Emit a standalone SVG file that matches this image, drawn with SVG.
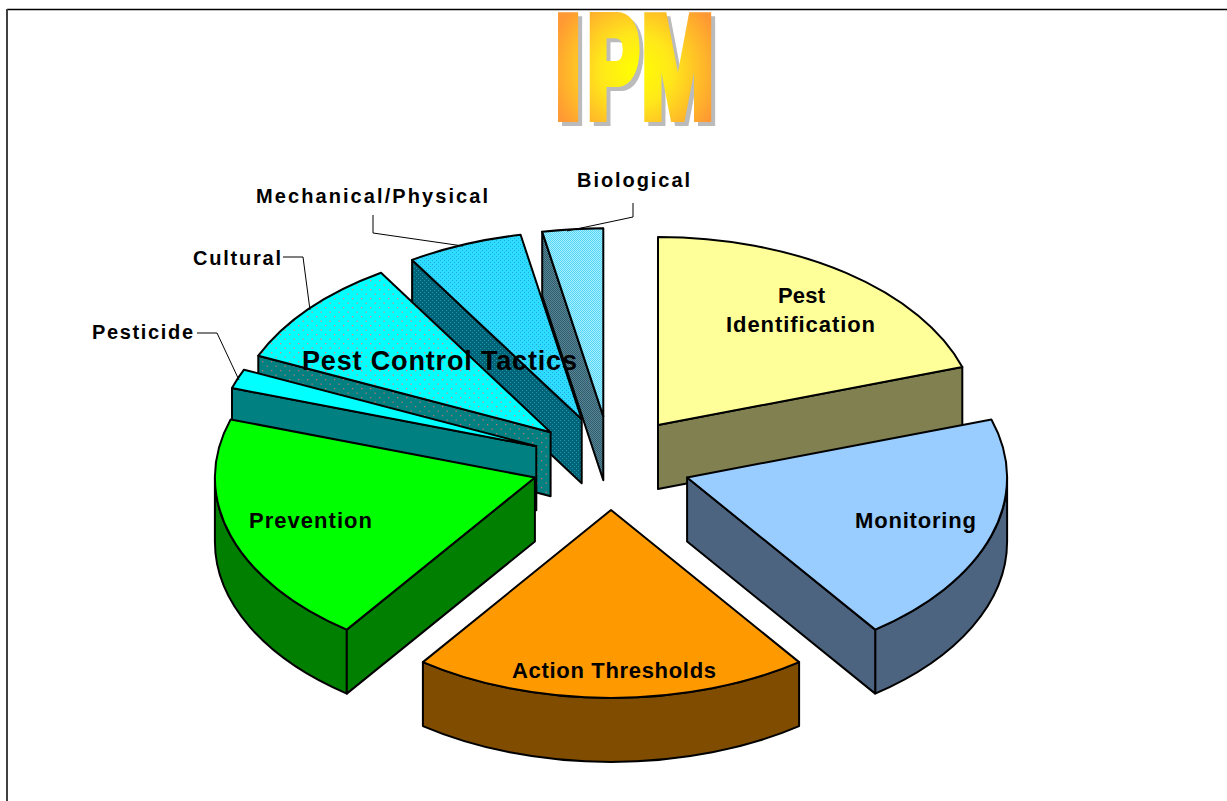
<svg xmlns="http://www.w3.org/2000/svg" width="1227" height="801" viewBox="0 0 1227 801">
<defs>
  <radialGradient id="gT" gradientUnits="userSpaceOnUse" cx="636" cy="70" r="88">
    <stop offset="0" stop-color="#FFFF00"/>
    <stop offset="0.4" stop-color="#FFE81A"/>
    <stop offset="1" stop-color="#FF9933"/>
  </radialGradient>
  <g id="ipmGlyphs" font-family="Liberation Sans, Arial, sans-serif" font-weight="bold" font-size="145" stroke-width="10" stroke-linejoin="miter">
    <text transform="translate(555,117) scale(0.65,1)">I</text>
    <text transform="translate(587.2,117) scale(0.54,1)">P</text>
    <text transform="translate(641.6,117) scale(0.6,1)">M</text>
  </g>
  <mask id="mT" maskUnits="userSpaceOnUse" x="500" y="0" width="280" height="140">
    <use href="#ipmGlyphs" fill="#fff" stroke="#fff"/>
  </mask>
  <pattern id="pCult" width="9" height="9" patternUnits="userSpaceOnUse">
    <rect width="9" height="9" fill="#00FFFF"/>
    <rect x="1" y="1" width="1.3" height="1.3" fill="#F08080"/>
    <rect x="5.5" y="5.5" width="1.3" height="1.3" fill="#F08080"/>
  </pattern>
  <pattern id="pCultSide" width="9" height="9" patternUnits="userSpaceOnUse">
    <rect width="9" height="9" fill="#008080"/>
    <rect x="1" y="1" width="1.3" height="1.3" fill="#C07070"/>
    <rect x="5.5" y="5.5" width="1.3" height="1.3" fill="#C07070"/>
  </pattern>
  <pattern id="pMech" width="4" height="4" patternUnits="userSpaceOnUse">
    <rect width="4" height="4" fill="#2EDCFF"/>
    <rect x="0" y="0" width="1" height="1" fill="#20A8E0"/>
    <rect x="2" y="2" width="1" height="1" fill="#20A8E0"/>
  </pattern>
  <pattern id="pMechSide" width="4" height="4" patternUnits="userSpaceOnUse">
    <rect width="4" height="4" fill="#006478"/>
    <rect x="0" y="0" width="1" height="1" fill="#1A9AB0"/>
    <rect x="2" y="2" width="1" height="1" fill="#1A9AB0"/>
  </pattern>
  <pattern id="pBio" width="2" height="2" patternUnits="userSpaceOnUse">
    <rect width="2" height="2" fill="#A6F0FF"/>
    <rect width="1" height="1" fill="#55D4F8"/>
    <rect x="1" y="1" width="1" height="1" fill="#55D4F8"/>
  </pattern>
  <pattern id="pBioSide" width="2" height="2" patternUnits="userSpaceOnUse">
    <rect width="2" height="2" fill="#5A8494"/>
    <rect width="1" height="1" fill="#2E5E6E"/>
    <rect x="1" y="1" width="1" height="1" fill="#2E5E6E"/>
  </pattern>
</defs>
<style>
  .lbl{font-family:"Liberation Sans",Arial,sans-serif;font-weight:bold;fill:#000}
  .in{font-size:22px}
  .out{font-size:20px}
  .s{stroke:#000;stroke-width:2;stroke-linejoin:round}
  .ld{fill:none;stroke:#000;stroke-width:1}
</style>
<rect width="1227" height="801" fill="#fff"/>
<g id="frame">
  <line x1="7" y1="9.5" x2="1227" y2="9.5" stroke="#000" stroke-width="1.5"/>
  <line x1="7" y1="9" x2="7" y2="801" stroke="#404040" stroke-width="2"/>
</g>
<g id="title">
  <use href="#ipmGlyphs" fill="#BBBBBB" stroke="#BBBBBB" transform="translate(4,4)"/>
  <rect x="500" y="0" width="280" height="140" fill="url(#gT)" mask="url(#mT)"/>
</g>

<g id="biological">
  <path class="s" fill="url(#pBioSide)" d="M603.3,416.2 L542.2,231.7 L542.2,295.7 L603.3,480.2 Z"/>
  <path class="s" fill="url(#pBio)" d="M603.3,416.2 L542.2,231.7 A320,188 0 0 1 603.3,228.2 Z"/>
</g>
<g id="mechanical">
  <path class="s" fill="url(#pMechSide)" d="M581.7,419.3 L412.1,259.9 L412.1,323.9 L581.7,483.3 Z"/>
  <path class="s" fill="url(#pMech)" d="M581.7,419.3 L412.1,259.9 A320,188 0 0 1 520.6,234.8 Z"/>
</g>
<g id="cultural">
  <path class="s" fill="url(#pCultSide)" d="M550.6,432.2 L258.3,355.7 L258.3,419.7 L550.6,496.2 Z"/>
  <path class="s" fill="url(#pCult)" d="M550.6,432.2 L258.3,355.7 A320,188 0 0 1 381.0,272.8 Z"/>
</g>
<g id="pesticide">
  <path class="s" fill="#008080" d="M536.3,446.2 L232.0,388.1 L232.0,452.1 L536.3,510.2 Z"/>
  <path class="s" fill="#00FFFF" d="M536.3,446.2 L232.0,388.1 A320,188 0 0 1 244.0,369.7 Z"/>
</g>
<g id="pest-identification">
  <path class="s" fill="#808050" d="M658,425 L962.3,366.9 L962.3,430.9 L658,489 Z"/>
  <path class="s" fill="#FFFF99" d="M658,425 L658,237 A320,188 0 0 1 962.3,366.9 Z"/>
  <text class="lbl in" x="778" y="303" textLength="47" lengthAdjust="spacing">Pest</text>
  <text class="lbl in" x="726" y="332" textLength="149" lengthAdjust="spacing">Identification</text>
</g>
<g id="prevention">
  <path class="s" fill="#007F00" d="M346.8,629.6 A320,188 0 0 1 214.9,477.5 L214.9,541.5 A320,188 0 0 0 346.8,693.6 Z"/>
  <path class="s" fill="#007F00" d="M534.9,477.5 L346.8,629.6 L346.8,693.6 L534.9,541.5 Z"/>
  <path class="s" fill="#00FF00" d="M534.9,477.5 L346.8,629.6 A320,188 0 0 1 230.6,419.4 Z"/>
  <text class="lbl in" x="249" y="528" textLength="123" lengthAdjust="spacing">Prevention</text>
</g>
<g id="monitoring">
  <path class="s" fill="#4D6480" d="M1007.1,477.5 A320,188 0 0 1 875.2,629.6 L875.2,693.6 A320,188 0 0 0 1007.1,541.5 Z"/>
  <path class="s" fill="#4D6480" d="M687.1,477.5 L875.2,629.6 L875.2,693.6 L687.1,541.5 Z"/>
  <path class="s" fill="#99CCFF" d="M687.1,477.5 L991.4,419.4 A320,188 0 0 1 875.2,629.6 Z"/>
  <text class="lbl in" x="855" y="528" textLength="121" lengthAdjust="spacing">Monitoring</text>
</g>
<g id="action-thresholds">
  <path class="s" fill="#804C00" d="M799.1,662.1 A320,188 0 0 1 422.9,662.1 L422.9,726.1 A320,188 0 0 0 799.1,726.1 Z"/>
  <path class="s" fill="#FF9900" d="M611,510 L799.1,662.1 A320,188 0 0 1 422.9,662.1 Z"/>
  <text class="lbl in" x="512" y="678" textLength="204" lengthAdjust="spacing">Action Thresholds</text>
</g>
<g id="pest-control-tactics">
  <text class="lbl" font-size="27" x="302" y="370" textLength="275" lengthAdjust="spacing">Pest Control Tactics</text>
</g>

<g id="connectors">
  <polyline class="ld" points="633,203 633,217 567,231"/>
  <polyline class="ld" points="373,215 373,233 463,246"/>
  <polyline class="ld" points="283,257 303,257 310,310"/>
  <polyline class="ld" points="197,333 217,333 239,380"/>
</g>
<g id="labels">
  <text class="lbl out" x="577" y="187" textLength="113" lengthAdjust="spacing">Biological</text>
  <text class="lbl out" x="256" y="203" textLength="232" lengthAdjust="spacing">Mechanical/Physical</text>
  <text class="lbl out" x="193" y="265" textLength="88" lengthAdjust="spacing">Cultural</text>
  <text class="lbl out" x="92" y="339" textLength="101" lengthAdjust="spacing">Pesticide</text>
</g>
</svg>
